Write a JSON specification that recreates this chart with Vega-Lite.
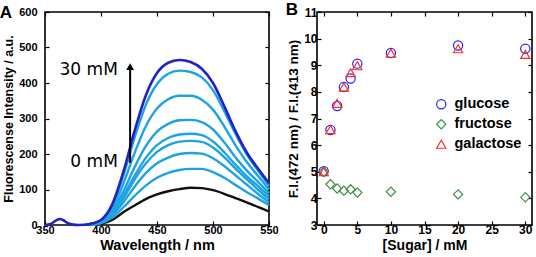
{
  "$schema": "https://vega.github.io/schema/vega-lite/v6.json",
  "background": "white",
  "padding": {"left": -2, "top": 0, "right": 0, "bottom": 0},
  "spacing": 5,
  "datasets": {
    "spec": [
      {"w":390,"v":0,"c":"k"},{"w":400,"v":3,"c":"k"},{"w":410,"v":14,"c":"k"},{"w":420,"v":36,"c":"k"},{"w":430,"v":55,"c":"k"},{"w":440,"v":73,"c":"k"},{"w":450,"v":86,"c":"k"},{"w":460,"v":95,"c":"k"},{"w":470,"v":101,"c":"k"},{"w":480,"v":105,"c":"k"},{"w":490,"v":104,"c":"k"},{"w":500,"v":98,"c":"k"},{"w":510,"v":88,"c":"k"},{"w":520,"v":76,"c":"k"},{"w":530,"v":64,"c":"k"},{"w":540,"v":51,"c":"k"},{"w":550,"v":38,"c":"k"},
      {"w":390,"v":0,"c":"l7"},{"w":400,"v":5,"c":"l7"},{"w":410,"v":22,"c":"l7"},{"w":420,"v":50,"c":"l7"},{"w":430,"v":82,"c":"l7"},{"w":440,"v":111,"c":"l7"},{"w":450,"v":133,"c":"l7"},{"w":460,"v":147,"c":"l7"},{"w":470,"v":155,"c":"l7"},{"w":480,"v":158,"c":"l7"},{"w":490,"v":158,"c":"l7"},{"w":500,"v":149,"c":"l7"},{"w":510,"v":133,"c":"l7"},{"w":520,"v":113,"c":"l7"},{"w":530,"v":93,"c":"l7"},{"w":540,"v":75,"c":"l7"},{"w":550,"v":56,"c":"l7"},
      {"w":390,"v":0,"c":"l6"},{"w":400,"v":6,"c":"l6"},{"w":410,"v":28,"c":"l6"},{"w":420,"v":64,"c":"l6"},{"w":430,"v":108,"c":"l6"},{"w":440,"v":146,"c":"l6"},{"w":450,"v":174,"c":"l6"},{"w":460,"v":190,"c":"l6"},{"w":470,"v":200,"c":"l6"},{"w":480,"v":203,"c":"l6"},{"w":490,"v":201,"c":"l6"},{"w":500,"v":188,"c":"l6"},{"w":510,"v":166,"c":"l6"},{"w":520,"v":140,"c":"l6"},{"w":530,"v":114,"c":"l6"},{"w":540,"v":88,"c":"l6"},{"w":550,"v":64,"c":"l6"},
      {"w":390,"v":1,"c":"l5"},{"w":400,"v":7,"c":"l5"},{"w":410,"v":32,"c":"l5"},{"w":420,"v":75,"c":"l5"},{"w":430,"v":128,"c":"l5"},{"w":440,"v":173,"c":"l5"},{"w":450,"v":206,"c":"l5"},{"w":460,"v":225,"c":"l5"},{"w":470,"v":235,"c":"l5"},{"w":480,"v":237,"c":"l5"},{"w":490,"v":234,"c":"l5"},{"w":500,"v":218,"c":"l5"},{"w":510,"v":191,"c":"l5"},{"w":520,"v":159,"c":"l5"},{"w":530,"v":129,"c":"l5"},{"w":540,"v":100,"c":"l5"},{"w":550,"v":73,"c":"l5"},
      {"w":390,"v":1,"c":"l4"},{"w":400,"v":8,"c":"l4"},{"w":410,"v":34,"c":"l4"},{"w":420,"v":82,"c":"l4"},{"w":430,"v":139,"c":"l4"},{"w":440,"v":189,"c":"l4"},{"w":450,"v":225,"c":"l4"},{"w":460,"v":245,"c":"l4"},{"w":470,"v":255,"c":"l4"},{"w":480,"v":257,"c":"l4"},{"w":490,"v":253,"c":"l4"},{"w":500,"v":235,"c":"l4"},{"w":510,"v":205,"c":"l4"},{"w":520,"v":170,"c":"l4"},{"w":530,"v":138,"c":"l4"},{"w":540,"v":110,"c":"l4"},{"w":550,"v":81,"c":"l4"},
      {"w":390,"v":1,"c":"l3"},{"w":400,"v":9,"c":"l3"},{"w":410,"v":39,"c":"l3"},{"w":420,"v":95,"c":"l3"},{"w":430,"v":163,"c":"l3"},{"w":440,"v":222,"c":"l3"},{"w":450,"v":263,"c":"l3"},{"w":460,"v":285,"c":"l3"},{"w":470,"v":295,"c":"l3"},{"w":480,"v":296,"c":"l3"},{"w":490,"v":290,"c":"l3"},{"w":500,"v":269,"c":"l3"},{"w":510,"v":233,"c":"l3"},{"w":520,"v":191,"c":"l3"},{"w":530,"v":154,"c":"l3"},{"w":540,"v":122,"c":"l3"},{"w":550,"v":90,"c":"l3"},
      {"w":390,"v":2,"c":"l2"},{"w":400,"v":11,"c":"l2"},{"w":410,"v":47,"c":"l2"},{"w":420,"v":117,"c":"l2"},{"w":430,"v":203,"c":"l2"},{"w":440,"v":278,"c":"l2"},{"w":450,"v":328,"c":"l2"},{"w":460,"v":354,"c":"l2"},{"w":470,"v":364,"c":"l2"},{"w":480,"v":364,"c":"l2"},{"w":490,"v":353,"c":"l2"},{"w":500,"v":325,"c":"l2"},{"w":510,"v":278,"c":"l2"},{"w":520,"v":225,"c":"l2"},{"w":530,"v":178,"c":"l2"},{"w":540,"v":139,"c":"l2"},{"w":550,"v":100,"c":"l2"},
      {"w":390,"v":3,"c":"l1"},{"w":400,"v":13,"c":"l1"},{"w":410,"v":55,"c":"l1"},{"w":420,"v":139,"c":"l1"},{"w":430,"v":246,"c":"l1"},{"w":440,"v":338,"c":"l1"},{"w":450,"v":397,"c":"l1"},{"w":460,"v":426,"c":"l1"},{"w":470,"v":435,"c":"l1"},{"w":480,"v":431,"c":"l1"},{"w":490,"v":416,"c":"l1"},{"w":500,"v":380,"c":"l1"},{"w":510,"v":321,"c":"l1"},{"w":520,"v":257,"c":"l1"},{"w":530,"v":200,"c":"l1"},{"w":540,"v":154,"c":"l1"},{"w":550,"v":110,"c":"l1"},
      {"w":350,"v":0,"c":"d"},{"w":355,"v":3,"c":"d"},{"w":360,"v":13,"c":"d"},{"w":363,"v":17,"c":"d"},{"w":366,"v":14,"c":"d"},{"w":370,"v":6,"c":"d"},{"w":375,"v":1,"c":"d"},{"w":380,"v":0,"c":"d"},{"w":390,"v":3,"c":"d"},{"w":400,"v":14,"c":"d"},{"w":410,"v":58,"c":"d"},{"w":420,"v":150,"c":"d"},{"w":430,"v":265,"c":"d"},{"w":440,"v":365,"c":"d"},{"w":450,"v":428,"c":"d"},{"w":460,"v":457,"c":"d"},{"w":470,"v":465,"c":"d"},{"w":480,"v":459,"c":"d"},{"w":490,"v":440,"c":"d"},{"w":500,"v":400,"c":"d"},{"w":510,"v":335,"c":"d"},{"w":520,"v":265,"c":"d"},{"w":530,"v":205,"c":"d"},{"w":540,"v":160,"c":"d"},{"w":550,"v":118,"c":"d"}
    ],
    "ratio": [
      {"s":0,"r":5.02,"sugar":"glucose"},{"s":1,"r":6.57,"sugar":"glucose"},{"s":2,"r":7.47,"sugar":"glucose"},{"s":3,"r":8.18,"sugar":"glucose"},{"s":4,"r":8.5,"sugar":"glucose"},{"s":5,"r":9.06,"sugar":"glucose"},{"s":10,"r":9.46,"sugar":"glucose"},{"s":20,"r":9.74,"sugar":"glucose"},{"s":30,"r":9.62,"sugar":"glucose"},
      {"s":0,"r":5.0,"sugar":"fructose"},{"s":1,"r":4.53,"sugar":"fructose"},{"s":2,"r":4.37,"sugar":"fructose"},{"s":3,"r":4.29,"sugar":"fructose"},{"s":4,"r":4.34,"sugar":"fructose"},{"s":5,"r":4.22,"sugar":"fructose"},{"s":10,"r":4.25,"sugar":"fructose"},{"s":20,"r":4.15,"sugar":"fructose"},{"s":30,"r":4.04,"sugar":"fructose"},
      {"s":0,"r":5.0,"sugar":"galactose"},{"s":1,"r":6.58,"sugar":"galactose"},{"s":2,"r":7.57,"sugar":"galactose"},{"s":3,"r":8.18,"sugar":"galactose"},{"s":4,"r":8.72,"sugar":"galactose"},{"s":5,"r":8.98,"sugar":"galactose"},{"s":10,"r":9.45,"sugar":"galactose"},{"s":20,"r":9.62,"sugar":"galactose"},{"s":30,"r":9.41,"sugar":"galactose"}
    ],
    "notes": [
      {"w":415,"v":437,"t":"30 mM"},
      {"w":415,"v":177,"t":"0 mM"}
    ],
    "arrow": [
      {"w":426,"v":175,"v2":446}
    ]
  },
  "hconcat": [
    {
      "width": 224,
      "height": 213,
      "title": {"text": "A", "anchor": "start", "frame": "bounds", "fontSize": 17, "fontWeight": "bold", "offset": 0, "dy": 16, "dx": -3},
      "layer": [
        {
          "data": {"name": "spec"},
          "transform": [{"filter": "datum.c != 'd'"}],
          "mark": {"type": "line", "interpolate": "monotone", "strokeWidth": 2.4},
          "encoding": {
            "x": {"field": "w", "type": "quantitative", "scale": {"domain": [350, 550], "nice": false},
                  "axis": {"values": [350, 400, 450, 500, 550], "title": "Wavelength / nm", "titleFontSize": 14.5, "labelFontSize": 11, "labelPadding": 3, "titlePadding": 3}},
            "y": {"field": "v", "type": "quantitative", "scale": {"domain": [0, 600], "nice": false},
                  "axis": {"values": [0, 100, 200, 300, 400, 500, 600], "title": "Fluorescense Intensity / a.u.", "titleFontSize": 12.5, "labelFontSize": 11, "labelPadding": 12}},
            "color": {"field": "c", "type": "nominal", "legend": null,
                      "scale": {"domain": ["k", "l7", "l6", "l5", "l4", "l3", "l2", "l1"],
                                "range": ["#111111", "#1ea3e2", "#1ea3e2", "#1ea3e2", "#1ea3e2", "#1ea3e2", "#1ea3e2", "#1ea3e2"]}}
          }
        },
        {
          "data": {"name": "spec"},
          "transform": [{"filter": "datum.c == 'd'"}],
          "mark": {"type": "line", "interpolate": "monotone", "strokeWidth": 2.6, "color": "#2222c4"},
          "encoding": {
            "x": {"field": "w", "type": "quantitative", "axis": null},
            "y": {"field": "v", "type": "quantitative", "axis": null}
          }
        },
        {
          "data": {"name": "notes"},
          "mark": {"type": "text", "align": "right", "baseline": "middle", "font": "DejaVu Sans", "fontSize": 17, "color": "black"},
          "encoding": {
            "x": {"field": "w", "type": "quantitative", "axis": null},
            "y": {"field": "v", "type": "quantitative", "axis": null},
            "text": {"field": "t"}
          }
        },
        {
          "data": {"name": "arrow"},
          "mark": {"type": "rule", "color": "black", "strokeWidth": 2},
          "encoding": {
            "x": {"field": "w", "type": "quantitative", "axis": {"orient": "top", "labels": false, "title": null, "values": [350, 400, 450, 500, 550]}},
            "y": {"field": "v", "type": "quantitative", "axis": {"orient": "right", "labels": false, "title": null, "values": [0, 100, 200, 300, 400, 500, 600]}},
            "y2": {"field": "v2"}
          }
        },
        {
          "data": {"name": "arrow"},
          "mark": {"type": "point", "shape": "triangle-up", "filled": true, "color": "black", "size": 60, "opacity": 1},
          "encoding": {
            "x": {"field": "w", "type": "quantitative", "axis": null},
            "y": {"field": "v2", "type": "quantitative", "axis": null}
          }
        }
      ],
      "resolve": {"axis": {"x": "independent", "y": "independent"}}
    },
    {
      "width": 215,
      "height": 213,
      "title": {"text": "B", "anchor": "start", "frame": "bounds", "fontSize": 17, "fontWeight": "bold", "offset": 0, "dy": 13, "dx": -1},
      "layer": [
        {
          "data": {"name": "ratio"},
          "mark": {"type": "point", "filled": false, "size": 85, "strokeWidth": 1.2, "opacity": 1},
          "encoding": {
            "x": {"field": "s", "type": "quantitative", "scale": {"domain": [-1, 31], "nice": false},
                  "axis": {"values": [0, 5, 10, 15, 20, 25, 30], "title": "[Sugar] / mM", "titleFontSize": 14, "labelFontSize": 12, "labelPadding": 3, "titlePadding": 3}},
            "y": {"field": "r", "type": "quantitative", "scale": {"domain": [3, 11], "nice": false},
                  "axis": {"values": [3, 4, 5, 6, 7, 8, 9, 10, 11], "title": "F.I.(472 nm) / F.I.(413 nm)", "titleFontSize": 13.5, "labelFontSize": 12, "labelPadding": 4}},
            "color": {"field": "sugar", "type": "nominal",
                      "scale": {"domain": ["glucose", "fructose", "galactose"], "range": ["#2626ee", "#3f8f48", "#ff2b2b"]},
                      "legend": {"title": null, "orient": "none", "legendX": 117, "legendY": 85, "labelFontSize": 14.5, "labelFontWeight": "bold", "labelFont": "Liberation Sans", "symbolSize": 85, "symbolStrokeWidth": 1.2, "rowPadding": 4, "labelOffset": 6,
                                 "encode": {"labels": {"update": {"fill": {"signal": "datum.value == 'glucose' ? '#1717e0' : datum.value == 'fructose' ? '#1b5a1b' : '#ff1a1a'"}}}}}},
            "shape": {"field": "sugar", "type": "nominal",
                      "scale": {"domain": ["glucose", "fructose", "galactose"], "range": ["circle", "diamond", "triangle-up"]}}
          }
        },
        {
          "data": {"name": "ratio"},
          "mark": {"type": "point", "opacity": 0},
          "encoding": {
            "x": {"field": "s", "type": "quantitative", "axis": {"orient": "top", "labels": false, "title": null, "values": [0, 5, 10, 15, 20, 25, 30]}},
            "y": {"field": "r", "type": "quantitative", "axis": {"orient": "right", "labels": false, "title": null, "values": [3, 4, 5, 6, 7, 8, 9, 10, 11]}}
          }
        }
      ],
      "resolve": {"axis": {"x": "independent", "y": "independent"}}
    }
  ],
  "resolve": {"scale": {"color": "independent", "shape": "independent", "x": "independent", "y": "independent"}, "legend": {"color": "independent", "shape": "independent"}},
  "config": {
    "font": "Liberation Sans",
    "view": {"stroke": "black", "strokeWidth": 1.6},
    "title": {"font": "Liberation Sans", "color": "black"},
    "axis": {
      "labelFont": "Liberation Sans", "labelFontWeight": "bold", "labelColor": "black", "labelFlush": false,
      "titleFont": "Liberation Sans", "titleFontWeight": "bold", "titleColor": "black",
      "domain": false, "tickColor": "black", "tickWidth": 1.2, "tickSize": -4,
      "grid": false, "labelPadding": 3, "titlePadding": 3
    }
  }
}
